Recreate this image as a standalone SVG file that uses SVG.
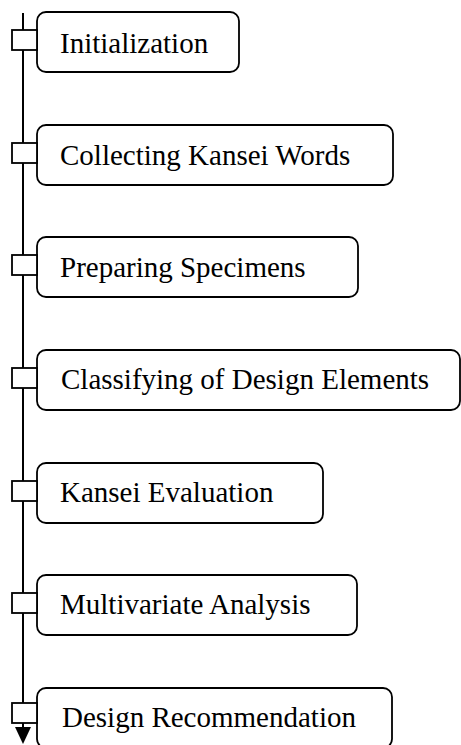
<svg xmlns="http://www.w3.org/2000/svg" width="461" height="745" viewBox="0 0 461 745">
<style>
.box{fill:#fff;stroke:#000;stroke-width:1.8}
.tab{fill:#fff;stroke:#000;stroke-width:1.8}
.lbl{font-family:"Liberation Serif","Times New Roman",serif;font-size:29px;fill:#000}
.line{stroke:#000;stroke-width:2;fill:none}
</style>
<defs>
<marker id="arr" markerWidth="16" markerHeight="18" refX="8" refY="17" orient="auto-start-reverse" markerUnits="userSpaceOnUse" viewBox="0 0 16 18">
<path d="M0,0 L16,0 L8,17 Z" fill="#000"/>
</marker>
</defs>
<rect width="461" height="745" fill="#fff"/>
<g id="connectors">
<line class="line" x1="23" y1="13" x2="23" y2="727"/>
<path d="M15,727 L31,727 L23,744 Z" fill="#000"/>
</g>
<g id="n1"><rect class="box" x="37" y="12" width="202" height="60" rx="9"/><rect class="tab" x="12" y="30" width="25" height="20"/><text class="lbl" x="60" y="53">Initialization</text></g>
<g id="n2"><rect class="box" x="37" y="125" width="356" height="60" rx="9"/><rect class="tab" x="12" y="143" width="25" height="20"/><text class="lbl" x="60" y="165">Collecting Kansei Words</text></g>
<g id="n3"><rect class="box" x="37" y="237" width="321" height="60" rx="9"/><rect class="tab" x="12" y="255" width="25" height="20"/><text class="lbl" x="60" y="277">Preparing Specimens</text></g>
<g id="n4"><rect class="box" x="37" y="350" width="423" height="60" rx="9"/><rect class="tab" x="12" y="368" width="25" height="20"/><text class="lbl" x="61" y="389">Classifying of Design Elements</text></g>
<g id="n5"><rect class="box" x="37" y="463" width="286" height="60" rx="9"/><rect class="tab" x="12" y="481" width="25" height="20"/><text class="lbl" x="60" y="502">Kansei Evaluation</text></g>
<g id="n6"><rect class="box" x="37" y="575" width="320" height="60" rx="9"/><rect class="tab" x="12" y="593" width="25" height="20"/><text class="lbl" x="60" y="614">Multivariate Analysis</text></g>
<g id="n7"><rect class="box" x="37" y="688" width="355" height="60" rx="9"/><rect class="tab" x="12" y="703" width="25" height="20"/><text class="lbl" x="62" y="727">Design Recommendation</text></g>
</svg>
